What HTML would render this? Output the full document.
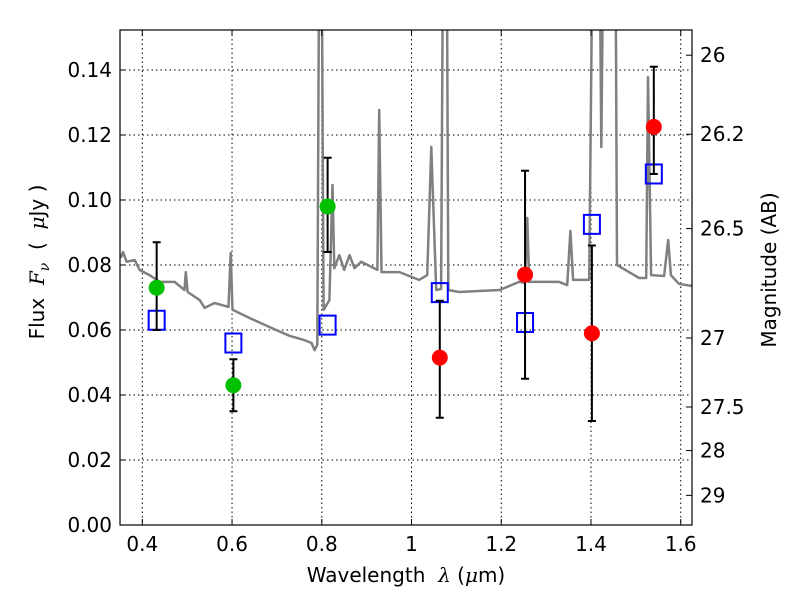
<!DOCTYPE html>
<html><head><meta charset="utf-8"><style>
body{margin:0;background:#fff}
svg{display:block;font-family:"DejaVu Sans","Liberation Sans",sans-serif}
</style></head><body>
<svg id="chart" width="800" height="600" xmlns="http://www.w3.org/2000/svg"></svg>
<script>
const xTicks=[0.4,0.6,0.8,1.0,1.2,1.4,1.6];
const xTickLabels=["0.4","0.6","0.8","1","1.2","1.4","1.6"];
const yTicks=[0,0.02,0.04,0.06,0.08,0.10,0.12,0.14];
const yTickLabels=["0.00","0.02","0.04","0.06","0.08","0.10","0.12","0.14"];
const magTicks=[26,26.2,26.5,27,27.5,28,29];
const magTickLabels=["26","26.2","26.5","27","27.5","28","29"];
const specWave=[0.352,0.357,0.365,0.383,0.394,0.416,0.439,0.472,0.494,0.497,0.501,0.528,0.539,0.561,0.592,0.597,0.601,0.639,0.684,0.728,0.761,0.777,0.784,0.790,0.795,0.799,0.804,0.817,0.824,0.828,0.839,0.850,0.862,0.873,0.888,0.924,0.928,0.933,0.973,1.017,1.035,1.044,1.055,1.066,1.071,1.078,1.082,1.106,1.196,1.240,1.253,1.258,1.262,1.329,1.347,1.354,1.360,1.396,1.405,1.418,1.423,1.429,1.454,1.458,1.507,1.523,1.527,1.534,1.563,1.572,1.578,1.596,1.626];
const specFlux=[0.0822,0.084,0.081,0.0815,0.0785,0.0769,0.0748,0.0748,0.0723,0.0778,0.0717,0.0692,0.0668,0.0683,0.0671,0.0837,0.0662,0.0637,0.0609,0.0582,0.0569,0.0560,0.0538,0.0554,0.2,0.2,0.0662,0.0692,0.1046,0.079,0.083,0.0785,0.083,0.079,0.081,0.0785,0.1277,0.0778,0.0778,0.0754,0.0769,0.1163,0.0723,0.0726,0.2,0.2,0.0723,0.0717,0.0723,0.0748,0.0745,0.0945,0.0748,0.0748,0.0738,0.0905,0.0754,0.0754,0.2,0.2,0.1163,0.2,0.2,0.080,0.076,0.076,0.1378,0.0769,0.0766,0.0877,0.0769,0.0742,0.0735];
const greenWave=[0.432,0.603,0.813];
const greenFlux=[0.073,0.043,0.098];
const greenLo=[0.060,0.035,0.084];
const greenHi=[0.087,0.051,0.113];
const redWave=[1.063,1.253,1.402,1.54];
const redFlux=[0.0515,0.077,0.059,0.1225];
const redLo=[0.033,0.045,0.032,0.108];
const redHi=[0.069,0.109,0.086,0.141];
const modelWave=[0.432,0.603,0.813,1.063,1.253,1.402,1.54];
const modelFlux=[0.063,0.056,0.0615,0.0715,0.0623,0.0925,0.108];

const L=120,R=692,T=30,B=525;
const xmin=0.3503,xmax=1.6251,ymin=0,ymax=0.1523;
const X=v=>L+(v-xmin)/(xmax-xmin)*(R-L);
const Y=v=>B-(v-ymin)/(ymax-ymin)*(B-T);
const M=m=>Y(Math.pow(10,(23.9-m)/2.5));
const svg=document.getElementById('chart');
const NS="http://www.w3.org/2000/svg";
function mk(tag,attrs,parent){const e=document.createElementNS(NS,tag);for(const k in attrs)e.setAttribute(k,attrs[k]);(parent||svg).appendChild(e);return e;}

const defs=mk('defs',{});
const cp=mk('clipPath',{id:'clip'},defs);
mk('rect',{x:L,y:T,width:R-L,height:B-T},cp);

const grid=mk('g',{stroke:'#000','stroke-width':1,'stroke-dasharray':'1.5,3'});


xTicks.forEach(v=>mk('line',{x1:X(v),x2:X(v),y1:T,y2:B},grid));
yTicks.forEach(v=>mk('line',{x1:L,x2:R,y1:Y(v),y2:Y(v)},grid));

const pts=specWave.map((w,i)=>X(w).toFixed(1)+','+Y(specFlux[i]).toFixed(1)).join(' ');
const sp=mk('polyline',{points:pts,fill:'none',stroke:'#808080','stroke-width':2.5,'stroke-linejoin':'round','clip-path':'url(#clip)'});



modelWave.forEach((w,i)=>{
  const s=mk('rect',{x:X(w)-8,y:Y(modelFlux[i])-9.5,width:16,height:19,fill:'none',stroke:'#0000ff','stroke-width':2});
  
  
});

function errs(ws,lo,hi){
  ws.forEach((w,i)=>{
    const g=mk('g',{stroke:'#000','stroke-width':2});
    
    
    const x=X(w);
    mk('line',{x1:x,x2:x,y1:Y(lo[i]),y2:Y(hi[i])},g);
    mk('line',{x1:x-4,x2:x+4,y1:Y(lo[i]),y2:Y(lo[i])},g);
    mk('line',{x1:x-4,x2:x+4,y1:Y(hi[i]),y2:Y(hi[i])},g);
  });
}
errs(greenWave,greenLo,greenHi);
errs(redWave,redLo,redHi);
greenWave.forEach((w,i)=>{
  const c=mk('circle',{cx:X(w),cy:Y(greenFlux[i]),r:8,fill:'#00c000'});
  
  
});
redWave.forEach((w,i)=>{
  const c=mk('circle',{cx:X(w),cy:Y(redFlux[i]),r:8,fill:'#ff0000'});
  
  
});

const fr=mk('rect',{x:L,y:T,width:R-L,height:B-T,fill:'none',stroke:'#000','stroke-width':1.2});



const tg=mk('g',{stroke:'#000','stroke-width':1});
xTicks.forEach((v,i)=>{
  mk('line',{x1:X(v),x2:X(v),y1:B,y2:B-6},tg);
  mk('line',{x1:X(v),x2:X(v),y1:T,y2:T+6},tg);
  const t=mk('text',{x:X(v),y:B+26,'text-anchor':'middle','font-size':20,stroke:'none'});
  t.textContent=xTickLabels[i];
  
  
});
yTicks.forEach((v,i)=>{
  mk('line',{x1:L,x2:L+6,y1:Y(v),y2:Y(v)},tg);
  const t=mk('text',{x:L-8,y:Y(v)+7,'text-anchor':'end','font-size':20,stroke:'none'});
  t.textContent=yTickLabels[i];
  
  
});
magTicks.forEach((m,i)=>{
  mk('line',{x1:R,x2:R-6,y1:M(m),y2:M(m)},tg);
  const t=mk('text',{x:R+8,y:M(m)+7,'text-anchor':'start','font-size':20,stroke:'none'});
  t.textContent=magTickLabels[i];
  
  
});
</script>
<svg width="800" height="600" style="position:absolute;left:0;top:0">
<text x="406" y="582" text-anchor="middle" font-size="20" font-family="DejaVu Sans, sans-serif">Wavelength&#160;&#160;<tspan font-family="DejaVu Serif, serif" font-style="italic">λ</tspan> (<tspan font-family="DejaVu Serif, serif" font-style="italic">μ</tspan>m)</text>
<text transform="translate(44,262) rotate(-90)" text-anchor="middle" font-size="20" font-family="DejaVu Sans, sans-serif">Flux&#160;&#160;<tspan font-family="DejaVu Serif, serif" font-style="italic">F</tspan><tspan font-family="DejaVu Serif, serif" font-style="italic" font-size="14" dy="5">ν</tspan><tspan dy="-5">&#160;&#160;(&#160;&#160;</tspan><tspan font-family="DejaVu Serif, serif" font-style="italic">μ</tspan>Jy&#160;)</text>
<text transform="translate(776,270) rotate(-90)" text-anchor="middle" font-size="20" font-family="DejaVu Sans, sans-serif">Magnitude (AB)</text>
</svg>
</body></html>
